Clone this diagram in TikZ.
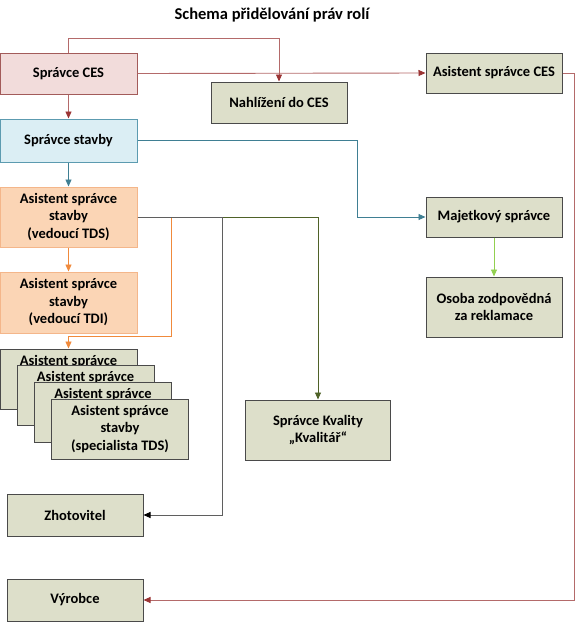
\documentclass[tikz,border=0pt]{standalone}
\usepackage{fontspec}
\setmainfont{Carlito}
\usepackage{tikz}
\usetikzlibrary{arrows.meta}
\definecolor{cesfill}{HTML}{F2DCDB}
\definecolor{cesdraw}{HTML}{A35B5A}
\definecolor{stavfill}{HTML}{DBEEF4}
\definecolor{stavdraw}{HTML}{5C9BB0}
\definecolor{tdfill}{HTML}{FBD5B5}
\definecolor{tddraw}{HTML}{F4B68A}
\definecolor{olfill}{HTML}{DDDFCA}
\definecolor{oldraw}{HTML}{4A4A4A}
\definecolor{redline}{HTML}{B46A6A}
\definecolor{redtip}{HTML}{9B3434}
\definecolor{blueline}{HTML}{3F7F93}
\definecolor{orangeline}{HTML}{F08A3C}
\definecolor{greenline}{HTML}{92D050}
\definecolor{oliveline}{HTML}{4F6228}
\definecolor{greyline}{HTML}{5F5F5F}
\tikzstyle{role} = [draw, line width=1pt, align=center, inner sep=2pt,
    minimum width=136pt, minimum height=41pt,
    font=\bfseries\fontsize{14.5}{17.5}\selectfont]
\tikzstyle{olive} = [role, fill=olfill, draw=oldraw]
\tikzset{tip/.style={-{Triangle[length=7pt,width=6pt,color=#1]}}}
% only the top line shows, the rest lies under the next card
\newcommand{\hiddencard}{Asistent správce\\\phantom{stavby}\\\phantom{(specialista TDS)}}

\begin{document}
\begin{tikzpicture}[x=1pt, y=-1pt]
\useasboundingbox (0,0) rectangle (576,622);
    %title
    \node[font=\bfseries\fontsize{16.5}{18}\selectfont] (title) at (272,15) {Schema přidělování práv rolí};
    %roles
    \node[role, fill=cesfill, draw=cesdraw, minimum width=137pt] (sces) at (68.5,73.5) {Správce CES};
    \node[olive] (nahl) at (279,102.5) {Nahlížení do CES};
    \node[olive, minimum height=40pt] (asces) at (494,73) {Asistent správce CES};
    \node[role, fill=stavfill, draw=stavdraw, minimum width=137pt, minimum height=43pt] (sstav) at (68.5,140.5) {Správce stavby};
    \node[role, fill=tdfill, draw=tddraw, minimum width=137pt, minimum height=60pt] (tds) at (68.5,217) {Asistent správce\\stavby\\(vedoucí TDS)};
    \node[role, fill=tdfill, draw=tddraw, minimum width=137pt, minimum height=61pt] (tdi) at (68.5,302.5) {Asistent správce\\stavby\\(vedoucí TDI)};
    \node[olive, minimum width=137pt, minimum height=60pt] (spec1) at (68.5,379) {\hiddencard};
    \node[olive, minimum width=137pt, minimum height=60pt] (spec2) at (85.5,395.5) {\hiddencard};
    \node[olive, minimum width=137pt, minimum height=60pt] (spec3) at (103,412) {\hiddencard};
    \node[olive, minimum width=137pt, minimum height=60pt] (spec4) at (120,429) {Asistent správce\\stavby\\(specialista TDS)};
    \node[olive, minimum width=145pt, minimum height=60pt] (kval) at (318,430) {Správce Kvality\\„Kvalitář“};
    \node[olive, minimum height=40pt] (maj) at (494,217) {Majetkový správce};
    \node[olive, minimum height=60pt] (osoba) at (494,307) {Osoba zodpovědná\\za reklamace};
    \node[olive, minimum height=42pt] (zhot) at (75,515) {Zhotovitel};
    \node[olive, minimum height=42pt] (vyr) at (75,600) {Výrobce};
    %connectors
    \draw[redline, line width=0.9pt, tip=redtip] (sces.north) -- ++(0,-14) -| (nahl.north);
    \draw[redline, line width=0.9pt, tip=redtip] (sces.east) -- (asces.west);
    \draw[redline, line width=0.9pt, tip=redtip] (sces.south) -- (sstav.north);
    \draw[redline, line width=0.9pt, tip=redtip] (asces.east) -- ++(12,0) |- (vyr.east);
    \draw[blueline, line width=0.9pt, tip=blueline] (sstav.east) -- ++(220,0) |- (maj.west);
    \draw[blueline, line width=0.9pt, tip=blueline] (sstav.south) -- (tds.north);
    \draw[orangeline, line width=0.9pt, tip=orangeline] (tds.south) -- (tdi.north);
    \draw[orangeline, line width=0.9pt, tip=orangeline] (tds.east) -- ++(34,0) -- ++(0,119) -| (spec1.north);
    \draw[oliveline, line width=0.9pt, tip=oliveline] (tds.east) -| (kval.north);
    \draw[greyline, line width=0.9pt, tip=black] (tds.east) -- ++(85,0) |- (zhot.east);
    \draw[greenline, line width=0.9pt, tip=greenline] (maj.south) -- (osoba.north);
\end{tikzpicture}
\end{document}
